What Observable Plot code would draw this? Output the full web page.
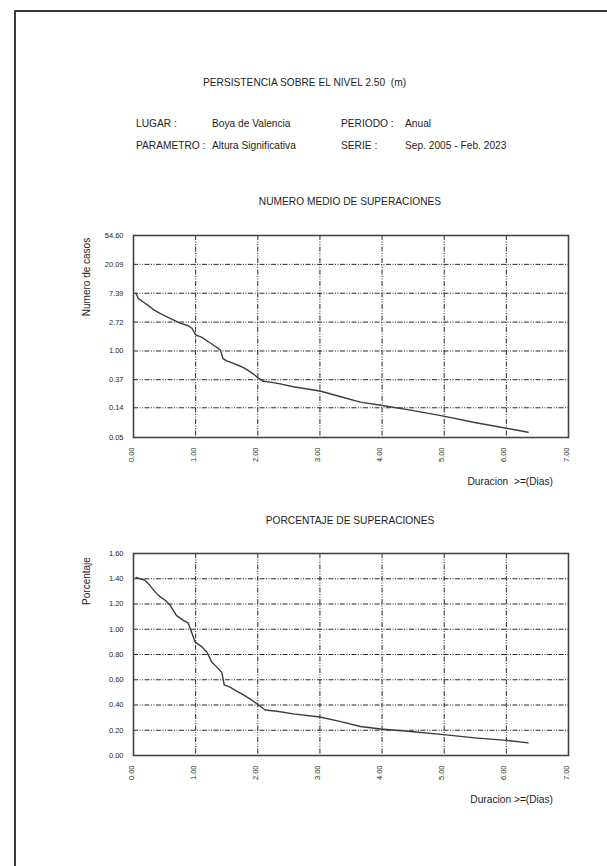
<!DOCTYPE html>
<html>
<head>
<meta charset="utf-8">
<script src="https://cdn.jsdelivr.net/npm/d3@7"></script>
<script src="https://cdn.jsdelivr.net/npm/@observablehq/plot@0.6"></script>
<style>
  html, body { margin: 0; padding: 0; background: #fff; }
  #page { position: relative; width: 607px; height: 866px; overflow: hidden; background: #fff;
    font-family: "Liberation Sans", Arial, sans-serif; color: #1e1e1e; }
  #border { position: absolute; left: 14px; top: 10px; width: 700px; height: 900px;
    border-left: 2px solid #3a3a3a; border-top: 2px solid #3a3a3a; }
  .t { position: absolute; font-size: 10.2px; line-height: 12px; white-space: nowrap; }
  .rot { position: absolute; font-size: 10px; line-height: 12px; white-space: nowrap;
    transform: translate(-50%, -50%) rotate(-90deg); }
  .chart { position: absolute; left: 0; }
</style>
</head>
<body>
<div id="page">
  <div id="border"></div>
  <div class="t" style="left:203px; top:77px;">PERSISTENCIA SOBRE EL NIVEL 2.50&nbsp;&nbsp;(m)</div>
  <div class="t" style="left:136px; top:118px;">LUGAR :</div>
  <div class="t" style="left:212px; top:118px;">Boya de Valencia</div>
  <div class="t" style="left:341px; top:118px;">PERIODO :</div>
  <div class="t" style="left:405px; top:118px;">Anual</div>
  <div class="t" style="left:136px; top:140px;">PARAMETRO :</div>
  <div class="t" style="left:212px; top:140px;">Altura Significativa</div>
  <div class="t" style="left:341px; top:140px;">SERIE :</div>
  <div class="t" style="left:405px; top:140px;">Sep. 2005 - Feb. 2023</div>

  <div class="t" style="left:350px; top:196px; transform:translateX(-50%);">NUMERO MEDIO DE SUPERACIONES</div>
  <div class="rot" style="left:87px; top:277px;">Numero de casos</div>
  <div class="t" style="right:54px; top:476px;">Duracion &nbsp;&gt;=(Dias)</div>
  <div id="chart1" class="chart" style="top:215px;"></div>

  <div class="t" style="left:350px; top:515px; transform:translateX(-50%);">PORCENTAJE DE SUPERACIONES</div>
  <div class="rot" style="left:87px; top:581px;">Porcentaje</div>
  <div class="t" style="right:54px; top:794px;">Duracion &gt;=(Dias)</div>
  <div id="chart2" class="chart" style="top:533px;"></div>
</div>
<script>
// ---- data ----
const xTicks = [0, 1, 2, 3, 4, 5, 6, 7];
const yTicksCasos = [0.05, 0.14, 0.37, 1.00, 2.72, 7.39, 20.09, 54.60];
const yTicksPct = [0.00, 0.20, 0.40, 0.60, 0.80, 1.00, 1.20, 1.40, 1.60];

const diasCasos = [0.04, 0.075, 0.15, 0.23, 0.32, 0.42, 0.53, 0.64, 0.75, 0.88, 0.94, 1.00, 1.10, 1.20, 1.31, 1.40, 1.44, 1.50, 1.61, 1.72, 1.82, 1.93, 2.01, 2.09, 2.20, 2.36, 2.57, 3.00, 3.38, 3.65, 3.98, 4.46, 4.99, 5.49, 6.00, 6.35];
const casos = [7.39, 6.2, 5.5, 4.9, 4.2, 3.7, 3.3, 2.95, 2.63, 2.4, 2.2, 1.75, 1.6, 1.39, 1.19, 1.03, 0.77, 0.71, 0.65, 0.59, 0.53, 0.45, 0.39, 0.35, 0.34, 0.32, 0.29, 0.25, 0.20, 0.17, 0.153, 0.129, 0.105, 0.084, 0.069, 0.060];

const diasPct = [0.04, 0.10, 0.18, 0.26, 0.34, 0.42, 0.51, 0.59, 0.69, 0.80, 0.88, 0.94, 0.99, 1.10, 1.18, 1.26, 1.34, 1.42, 1.46, 1.56, 1.66, 1.77, 1.90, 2.01, 2.12, 2.31, 2.57, 3.00, 3.32, 3.65, 3.98, 4.46, 4.99, 5.49, 6.00, 6.35];
const porcentaje = [1.41, 1.40, 1.39, 1.35, 1.30, 1.26, 1.23, 1.19, 1.11, 1.07, 1.05, 0.97, 0.90, 0.86, 0.82, 0.74, 0.70, 0.66, 0.56, 0.54, 0.51, 0.48, 0.44, 0.40, 0.36, 0.35, 0.33, 0.305, 0.27, 0.23, 0.21, 0.19, 0.165, 0.14, 0.12, 0.10];

const FONT = '"Liberation Sans", Arial, sans-serif';
const DASH = "5,1.5,1,1.5,1,1.5";

function makeChart(xs, ys, yTicks, yType, yDomain) {
  const data = xs.map((d, i) => ({ x: d, y: ys[i] }));
  return Plot.plot({
    width: 607,
    height: 262,
    marginLeft: 133,
    marginRight: 39,
    marginTop: 20,
    marginBottom: 40,
    style: { fontFamily: FONT, fontSize: "7.5px", color: "#1e1e1e", background: "transparent", overflow: "visible" },
    x: { domain: [0, 7], axis: null },
    y: { type: yType, domain: yDomain, axis: null },
    marks: [
      Plot.gridX(xTicks, { stroke: "#111", strokeOpacity: 1, strokeWidth: 0.9, strokeDasharray: DASH }),
      Plot.gridY(yTicks, { stroke: "#111", strokeOpacity: 1, strokeWidth: 0.9, strokeDasharray: DASH }),
      Plot.text(yTicks, { y: d => d, frameAnchor: "left", dx: -10, textAnchor: "end", fontSize: 7.5,
        text: d => d.toFixed(2), fill: "#1e1e1e" }),
      Plot.text(xTicks, { x: d => d, frameAnchor: "bottom", dy: 10, rotate: -90, textAnchor: "end", fontSize: 7.5,
        lineAnchor: "bottom", text: d => d.toFixed(2), fill: "#1e1e1e" }),
      Plot.line(data, { x: "x", y: "y", stroke: "#3c3c3c", strokeWidth: 1.4 }),
      Plot.frame({ stroke: "#444", strokeWidth: 1.6 })
    ]
  });
}

document.getElementById("chart1").appendChild(
  makeChart(diasCasos, casos, yTicksCasos, "log", [0.05, 54.60]));
document.getElementById("chart2").appendChild(
  makeChart(diasPct, porcentaje, yTicksPct, "linear", [0, 1.60]));
</script>
</body>
</html>
